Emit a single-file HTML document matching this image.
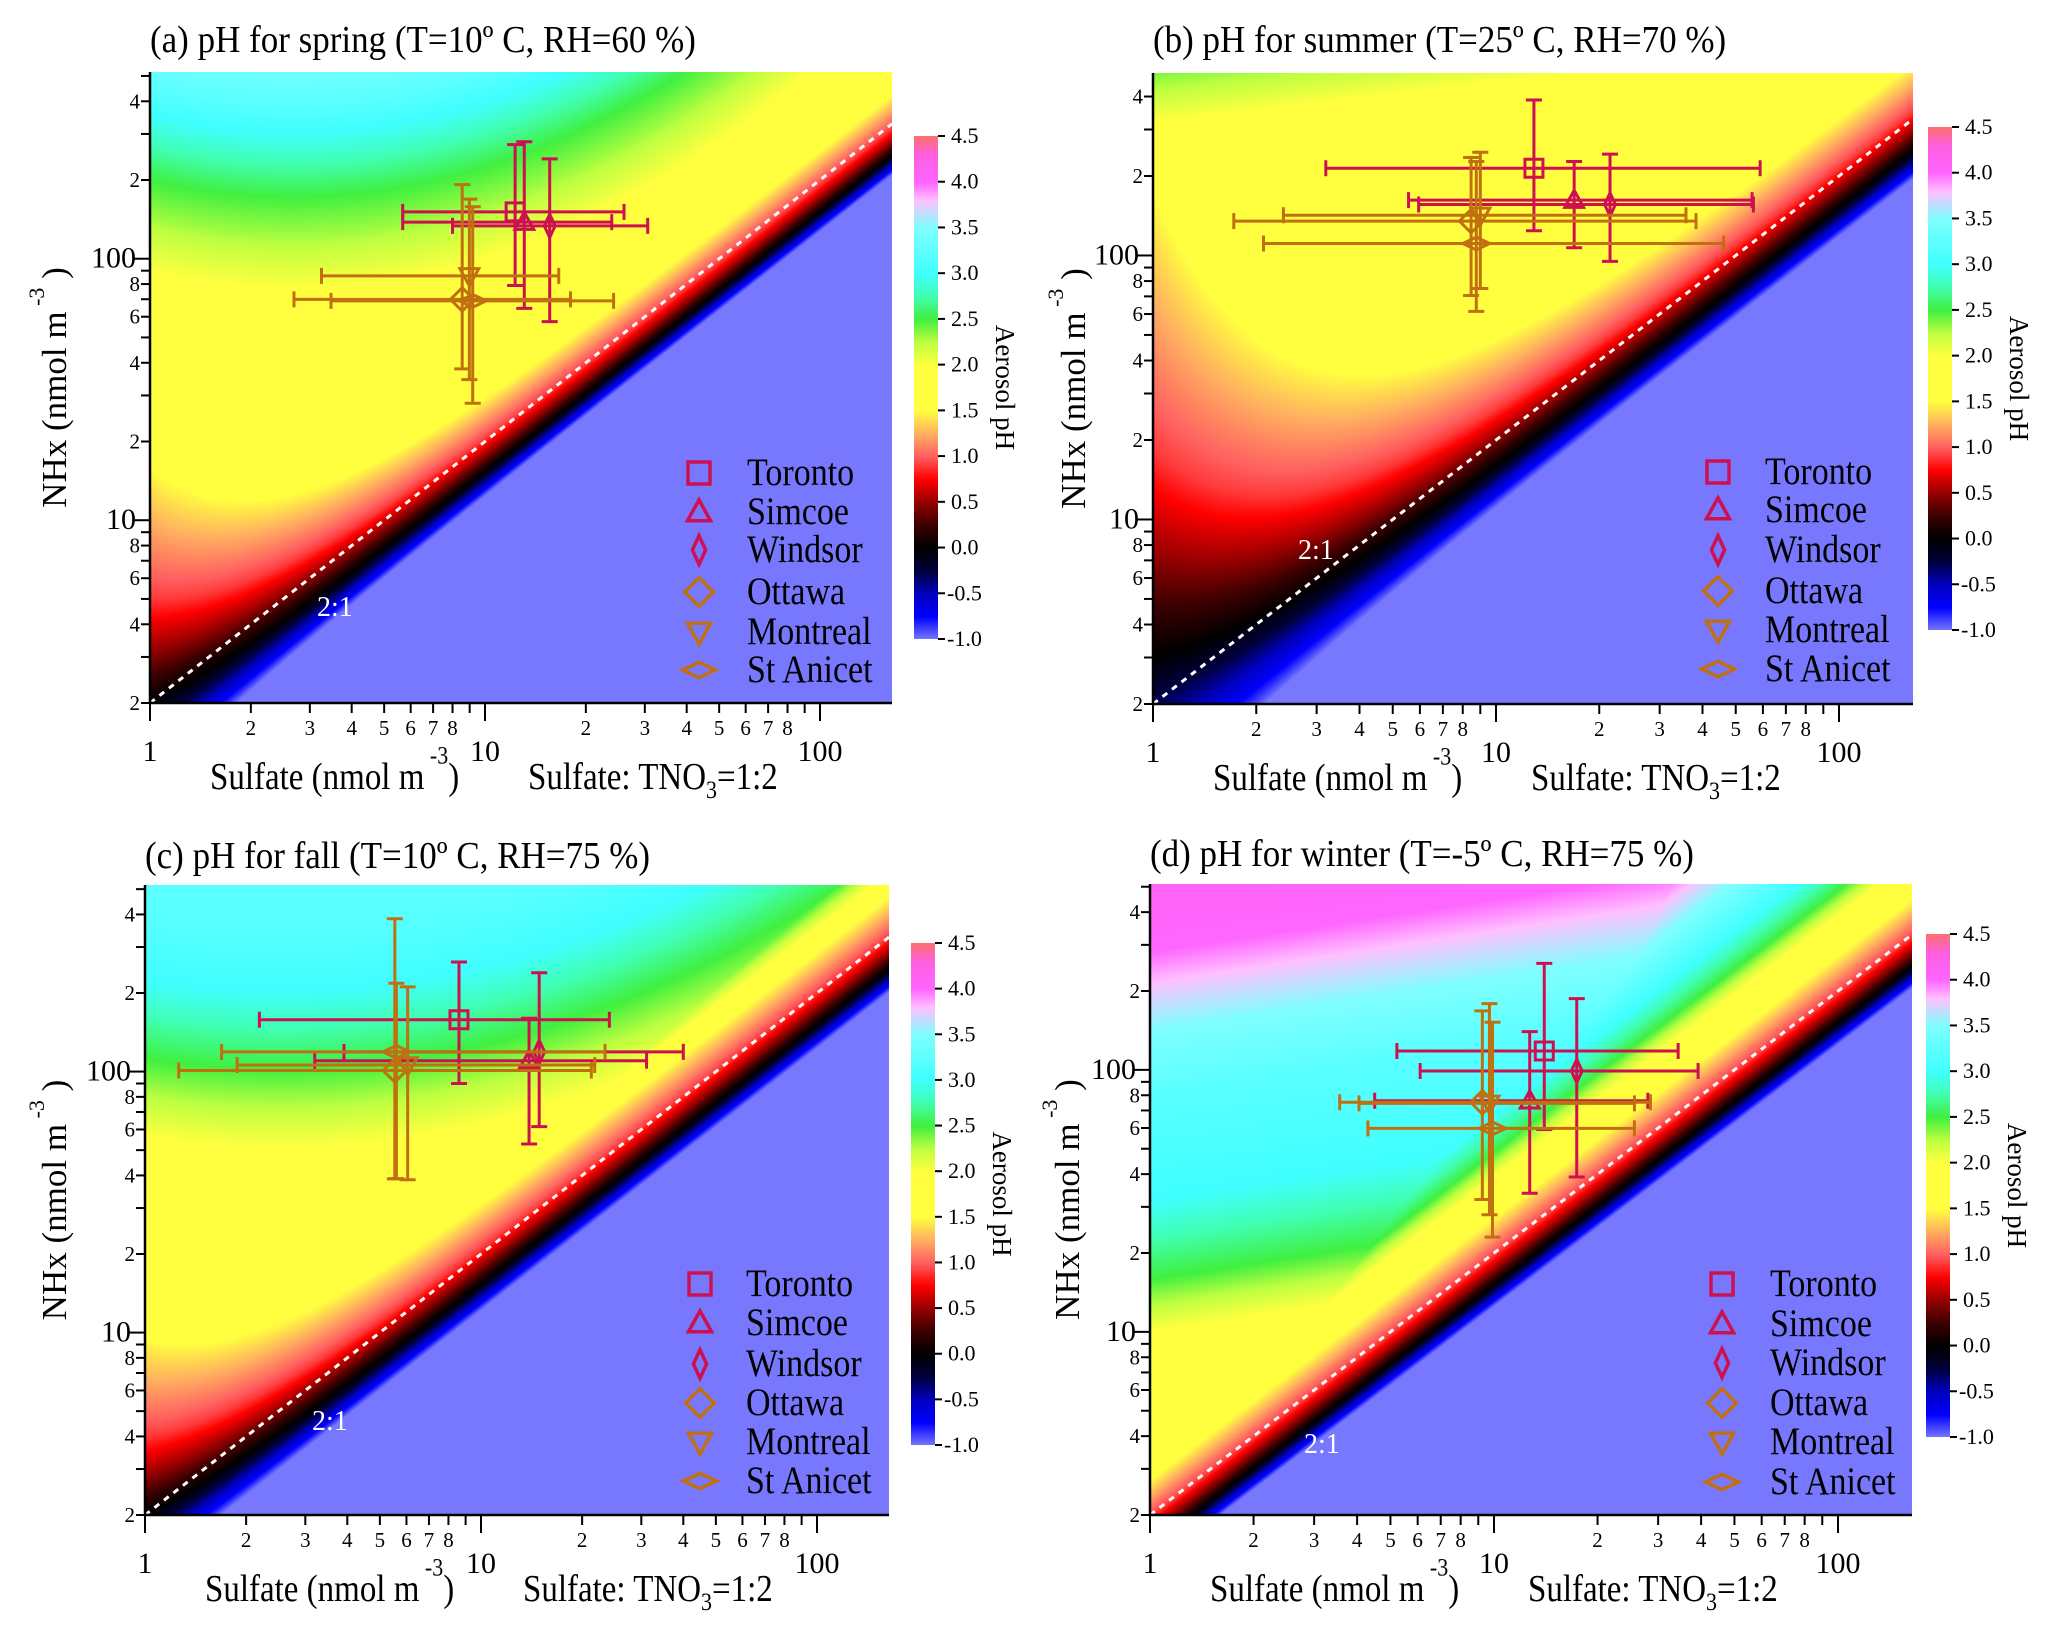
<!DOCTYPE html>
<html><head><meta charset="utf-8">
<style>
html,body{margin:0;padding:0;background:#fff;}
#wrap{position:relative;width:2063px;height:1639px;overflow:hidden;background:#fff;}
canvas{position:absolute;}
svg{position:absolute;left:0;top:0;}
text{font-family:"Liberation Serif",serif;fill:#000;}
</style></head>
<body>
<div id="wrap">
<canvas id="hmA"></canvas>
<canvas id="hmB"></canvas>
<canvas id="hmC"></canvas>
<canvas id="hmD"></canvas>
<canvas id="cbA"></canvas>
<canvas id="cbB"></canvas>
<canvas id="cbC"></canvas>
<canvas id="cbD"></canvas>
<svg id="chart" width="2063" height="1639" font-family="Liberation Serif, serif"></svg>
</div>
<script>
// ---------- data ----------
const sites = ["Toronto","Simcoe","Windsor","Ottawa","Montreal","St Anicet"];
const siteShapes = ["square","triangle","thinDiamond","diamond","triDown","flatDiamond"];
const siteColors = ["#cc1050","#cc1050","#cc1050","#c07010","#c07010","#c07010"];

const sulfateA = [12.3,13.1,15.6,8.55,8.98,9.19];
const sulfateLoA = [5.68,5.68,8.0,2.69,3.25,3.47];
const sulfateHiA = [26.0,23.9,30.6,18.0,16.6,24.2];
const nhxA = [151,138,133.5,69.9,86,69];
const nhxLoA = [79,64.6,57.5,37.9,34.5,28];
const nhxHiA = [273,280,241,192,169,158];

const sulfateB = [12.9,16.9,21.5,8.46,9.0,8.76];
const sulfateLoB = [3.19,5.56,5.95,1.72,2.40,2.10];
const sulfateHiB = [58.9,55.8,56.3,38.3,35.8,46.1];
const nhxB = [214,162,156,135,142,111];
const nhxLoB = [124,107,95,70.5,75,61.4];
const nhxHiB = [388,227,242,235,246,227];

const sulfateC = [8.6,13.9,14.9,5.54,6.05,5.6];
const sulfateLoC = [2.19,3.2,3.91,1.26,1.88,1.69];
const sulfateHiC = [24.1,31.1,40,21.3,21.8,23.4];
const nhxC = [158,110,119,101,106,119];
const nhxLoC = [90,52.8,61.5,38.8,38.5,38.9];
const nhxHiC = [263,160,239,385,211,218];

const sulfateD = [14.0,12.7,17.4,9.25,9.7,9.9];
const sulfateLoD = [5.22,4.5,6.1,3.56,4.05,4.3];
const sulfateHiD = [34.3,28,39.2,28.5,25.6,25.6];
const nhxD = [118,76.2,99,75.2,74.5,59.8];
const nhxLoD = [59.2,33.8,39,32,28,23];
const nhxHiD = [255,140,187,168,179,152];

const colorbarTicks = [-1.0,-0.5,0.0,0.5,1.0,1.5,2.0,2.5,3.0,3.5,4.0,4.5];
const xMinorLabels = [2,3,4,5,6,7,8];
const yMinorLabels = [2,4,6,8];

// ---------- colormap ----------
const cmap = [[-1,120,120,255],[-0.75,0,0,255],[-0.5,0,0,190],[-0.25,0,0,60],[0,0,0,0],[0.25,60,0,0],[0.5,150,0,0],[0.75,255,0,0],[1.0,255,96,96],[1.25,255,176,96],[1.5,255,255,64],[2.0,255,255,64],[2.25,190,255,64],[2.5,64,240,64],[2.75,64,255,176],[3.0,64,255,255],[3.5,128,255,255],[3.65,192,224,255],[3.8,255,192,255],[4.0,255,102,255],[4.3,255,96,224],[4.5,255,112,112]];
function colorOf(v){
  if(v<=cmap[0][0]) return [cmap[0][1],cmap[0][2],cmap[0][3]];
  for(let i=1;i<cmap.length;i++){
    if(v<=cmap[i][0]){const a=cmap[i-1],b=cmap[i];const t=(v-a[0])/(b[0]-a[0]);
      return [a[1]+t*(b[1]-a[1]),a[2]+t*(b[2]-a[2]),a[3]+t*(b[3]-a[3])];}
  }
  const l=cmap[cmap.length-1];return [l[1],l[2],l[3]];
}
function interp(st,x){
  if(x<=st[0][0]) return st[0][1];
  for(let i=1;i<st.length;i++){if(x<=st[i][0]){const a=st[i-1],b=st[i];return a[1]+(x-a[0])/(b[0]-a[0])*(b[1]-a[1]);}}
  return st[st.length-1][1];
}
const sStops=[[-0.3,-1],[-0.15,-0.5],[0,0],[0.2,0.5],[0.4,0.9],[0.65,1.2],[0.9,1.5],[2,3.2],[5,8]];
const sStopsB=[[-0.3,-1],[-0.15,-0.5],[0,0],[0.2,0.5],[0.4,0.9],[0.65,1.2],[0.9,1.5],[1.05,3.0],[5,8]];
const sStopsD=[[-0.3,-1],[-0.15,-0.5],[0,0],[0.2,0.5],[0.4,0.9],[0.65,1.2],[0.9,1.5],[1.4,1.9],[1.8,2.5],[2.3,3.0],[3.0,3.5],[4,4.2]];

const panels=[
 {id:'A',name:'spring',title:'(a) pH for spring (T=10º C, RH=60 %)',L:150,R:892,T:72,B:703,xDec:335,yDec:261.5,titleY:52,
  cb:{x:914,y0:136,y1:639},ylabX:55,ratio:[317,616],leg:{mx:699,tx:747,rows:[473,512,550,592,632,670]},
  s:sulfateA,sl:sulfateLoA,sh:sulfateHiA,n:nhxA,nl:nhxLoA,nh:nhxHiA,ss:sStops,
  c:lx=>-0.12*(1-Math.exp(-3*lx)),w:lx=>0.25+0.75*Math.exp(-2.5*lx),k:(lx,ly)=>0.35*lx*lx-0.3*lx,
  g:[[1.5,1.6],[1.8,1.75],[1.95,2.0],[2.15,2.3],[2.3,2.5],[2.5,2.9],[2.65,3.2],[2.8,3.4]]},
 {id:'B',name:'summer',title:'(b) pH for summer (T=25º C, RH=70 %)',L:1153,R:1913,T:73,B:704,xDec:343,yDec:264,titleY:52,
  cb:{x:1928,y0:127,y1:630},ylabX:1074,ratio:[1298,559],leg:{mx:1718,tx:1765,rows:[472,510,550,591,630,669]},
  s:sulfateB,sl:sulfateLoB,sh:sulfateHiB,n:nhxB,nl:nhxLoB,nh:nhxHiB,ss:sStopsB,
  c:lx=>-0.12+0.3*Math.exp(-2.5*lx),w:lx=>0.35+1.6*Math.exp(-2.2*lx),k:(lx,ly)=>0.15*lx,
  g:[[2.4,1.75],[2.55,2.1],[2.7,2.4]]},
 {id:'C',name:'fall',title:'(c) pH for fall (T=10º C, RH=75 %)',L:145,R:889,T:885,B:1515,xDec:336,yDec:261,titleY:868,
  cb:{x:911,y0:943,y1:1445},ylabX:55,ratio:[312,1430],leg:{mx:700,tx:746,rows:[1284,1323,1364,1403,1442,1481]},
  s:sulfateC,sl:sulfateLoC,sh:sulfateHiC,n:nhxC,nl:nhxLoC,nh:nhxHiC,ss:sStops,
  c:lx=>-0.12+0.12*Math.exp(-3*lx),w:lx=>0.3+0.45*Math.exp(-2.5*lx),k:(lx,ly)=>0.25*lx*lx-0.2*lx,
  g:[[1.6,1.6],[1.75,2.0],[2.05,2.5],[2.35,3.0],[2.6,3.2]]},
 {id:'D',name:'winter',title:'(d) pH for winter (T=-5º C, RH=75 %)',L:1150,R:1912,T:884,B:1515,xDec:344,yDec:262,titleY:866,
  cb:{x:1926,y0:934,y1:1437},ylabX:1068,ratio:[1304,1453],leg:{mx:1722,tx:1770,rows:[1284,1324,1363,1403,1442,1482]},
  s:sulfateD,sl:sulfateLoD,sh:sulfateHiD,n:nhxD,nl:nhxLoD,nh:nhxHiD,ss:sStopsD,
  c:lx=>-0.12,w:lx=>0.28,k:(lx,ly)=>0.2*lx,
  g:[[0.8,1.6],[1.0,2.0],[1.2,2.5],[1.5,3.0],[1.9,3.2],[2.15,3.5],[2.3,3.75],[2.45,4.0],[2.7,4.1]]}
];

const NS='http://www.w3.org/2000/svg';
const svg=document.getElementById('chart');
function mk(tag,attrs,parent){const e=document.createElementNS(NS,tag);for(const k in attrs)e.setAttribute(k,attrs[k]);(parent||svg).appendChild(e);return e;}
const L2=Math.log10(2);

function markerPath(shape,cx,cy,r){
  switch(shape){
    case 'square': return `M${cx-r},${cy-r}H${cx+r}V${cy+r}H${cx-r}Z`;
    case 'triangle': return `M${cx},${cy-r*1.1}L${cx+r*1.05},${cy+r*0.8}L${cx-r*1.05},${cy+r*0.8}Z`;
    case 'thinDiamond': return `M${cx},${cy-r*1.3}L${cx+r*0.6},${cy}L${cx},${cy+r*1.3}L${cx-r*0.6},${cy}Z`;
    case 'diamond': return `M${cx},${cy-r*1.3}L${cx+r*1.3},${cy}L${cx},${cy+r*1.3}L${cx-r*1.3},${cy}Z`;
    case 'triDown': return `M${cx-r*1.05},${cy-r*0.8}L${cx+r*1.05},${cy-r*0.8}L${cx},${cy+r*1.1}Z`;
    default: return `M${cx-r*1.5},${cy}L${cx},${cy-r*0.7}L${cx+r*1.5},${cy}L${cx},${cy+r*0.7}Z`;
  }
}

panels.forEach(p=>{
  const X=v=>p.L+Math.log10(v)*p.xDec;
  const Y=v=>p.B-(Math.log10(v)-L2)*p.yDec;
  const cv=document.getElementById('hm'+p.id);
  const W=p.R-p.L,H=p.B-p.T;
  cv.width=W;cv.height=H;cv.style.left=p.L+'px';cv.style.top=p.T+'px';
  const ctx=cv.getContext('2d');const img=ctx.createImageData(W,H);
  for(let i=0;i<W;i++){
    const lx=(i+0.5)/p.xDec;const c=p.c(lx),w=p.w(lx);
    for(let j=0;j<H;j++){
      const ly=L2+(H-j-0.5)/p.yDec;
      const u=ly-lx-L2;
      const s=interp(p.ss,(u-c)/w);
      const G=interp(p.g,ly-p.k(lx,ly));
      const ph=Math.min(s,G);
      const col=colorOf(ph);const o=(j*W+i)*4;
      img.data[o]=col[0];img.data[o+1]=col[1];img.data[o+2]=col[2];img.data[o+3]=255;
    }
  }
  ctx.putImageData(img,0,0);
  const cb=document.getElementById('cb'+p.id);
  const ch=p.cb.y1-p.cb.y0;
  cb.width=24;cb.height=ch;cb.style.left=p.cb.x+'px';cb.style.top=p.cb.y0+'px';
  const cx2=cb.getContext('2d');
  for(let j=0;j<ch;j++){const v=4.5-(j/ch)*5.5;const col=colorOf(v);cx2.fillStyle=`rgb(${col[0]|0},${col[1]|0},${col[2]|0})`;cx2.fillRect(0,j,24,1);}

  const g=mk('g',{});
  
  

  const t=mk('text',{x:0,y:0,'font-size':35,transform:`translate(${p.L},${p.titleY}) scale(1,1.1)`},g);t.textContent=p.title;
  
  

  const vEnd=Math.pow(10,(p.R-p.L)/p.xDec);
  const rl=mk('line',{x1:X(1),y1:Y(2),x2:X(vEnd),y2:Y(2*vEnd),stroke:'#fff','stroke-width':3,'stroke-dasharray':'6,6'},g);
  
  
  const rt=mk('text',{x:p.ratio[0],y:p.ratio[1],'font-size':28,fill:'#fff'},g);rt.textContent='2:1';rt.style.fill='#fff';
  
  

  for(let i=0;i<sites.length;i++){
    const col=siteColors[i];const cx=X(p.s[i]),cy=Y(p.n[i]);
    const eg=mk('g',{stroke:col,'stroke-width':3,fill:'none'},g);
    
    
    const x0=X(p.sl[i]),x1=X(p.sh[i]),y0=Y(p.nl[i]),y1=Y(p.nh[i]);
    mk('path',{d:`M${x0},${cy}H${x1}M${x0},${cy-8}V${cy+8}M${x1},${cy-8}V${cy+8}M${cx},${y0}V${y1}M${cx-8},${y0}H${cx+8}M${cx-8},${y1}H${cx+8}`},eg);
    mk('path',{d:markerPath(siteShapes[i],cx,cy,9)},eg);
  }

  const lg=mk('g',{},g);
  
  
  for(let i=0;i<sites.length;i++){
    const ry=p.leg.rows[i];
    const m=mk('path',{d:markerPath(siteShapes[i],p.leg.mx,ry,11),stroke:siteColors[i],'stroke-width':3.5,fill:'none'},lg);
    
    
    const tx=mk('text',{x:0,y:0,'font-size':34,transform:`translate(${p.leg.tx},${ry+12}) scale(1,1.15)`},lg);tx.textContent=sites[i];
    
    
  }

  const ax=mk('path',{d:`M${p.L},${p.T}V${p.B}H${p.R}`,stroke:'#000','stroke-width':2.5,fill:'none'},g);
  
  
  [1,10,100].forEach(dec=>{
    for(let m=1;m<=9;m++){
      const v=m*dec;const x=X(v);if(x>p.R+1)continue;
      const tk=mk('line',{x1:x,y1:p.B,x2:x,y2:p.B+(m===1?18:10),stroke:'#000','stroke-width':2},g);
      
      
      if(m===1){const tl=mk('text',{x:x,y:p.B+58,'font-size':30,'text-anchor':'middle'},g);tl.textContent=String(dec);
        
        }
      else if(xMinorLabels.indexOf(m)>=0){const tl=mk('text',{x:x,y:p.B+32,'font-size':21,'text-anchor':'middle'},g);tl.textContent=String(m);
        
        }
    }
  });
  [1,10,100].forEach(dec=>{
    for(let m=1;m<=9;m++){
      const v=m*dec;if(v<2)continue;const y=Y(v);if(y<p.T-1)continue;
      const tk=mk('line',{x1:p.L,y1:y,x2:p.L-(m===1?16:9),y2:y,stroke:'#000','stroke-width':2},g);
      
      
      if(m===1){const tl=mk('text',{x:p.L-14,y:y+9,'font-size':30,'text-anchor':'end'},g);tl.textContent=String(dec);
        
        }
      else if(yMinorLabels.indexOf(m)>=0){const tl=mk('text',{x:p.L-10,y:y+7,'font-size':21,'text-anchor':'end'},g);tl.textContent=String(m);
        
        }
    }
  });
  const xt=mk('text',{x:0,y:0,'font-size':33,transform:`translate(${p.L+60},${p.B+86}) scale(1,1.15)`},g);
  
  
  xt.innerHTML='Sulfate (nmol m<tspan dy="-22" font-size="22"> -3</tspan><tspan dy="22">)</tspan>';
  const xt2=mk('text',{x:0,y:0,'font-size':33,transform:`translate(${p.L+378},${p.B+86}) scale(1,1.15)`},g);
  
  
  xt2.innerHTML='Sulfate: TNO<tspan dy="8" font-size="22">3</tspan><tspan dy="-8">=1:2</tspan>';
  const yc=(p.T+p.B)/2;
  const yt=mk('text',{x:0,y:0,'font-size':35,'text-anchor':'middle',transform:`translate(${p.ylabX+11},${yc}) rotate(-90)`},g);
  
  
  yt.innerHTML='NHx (nmol m<tspan dy="-22" font-size="22"> -3</tspan><tspan dy="22"> )</tspan>';

  const cbR=p.cb.x+24;
  colorbarTicks.forEach(v=>{
    const y=p.cb.y1-(v+1)/5.5*ch;
    const tk=mk('line',{x1:cbR,y1:y,x2:cbR+7,y2:y,stroke:'#000','stroke-width':2},g);
    
    
    const tl=mk('text',{x:cbR+(v<0?9:13),y:y+7,'font-size':22},g);tl.textContent=v.toFixed(1);
    
    
  });
  const ct=mk('text',{x:0,y:0,'font-size':27,'text-anchor':'middle',transform:`translate(${cbR+58},${(p.cb.y0+p.cb.y1)/2}) rotate(90)`},g);
  ct.textContent='Aerosol pH';
  
  
});
</script>
</body></html>
